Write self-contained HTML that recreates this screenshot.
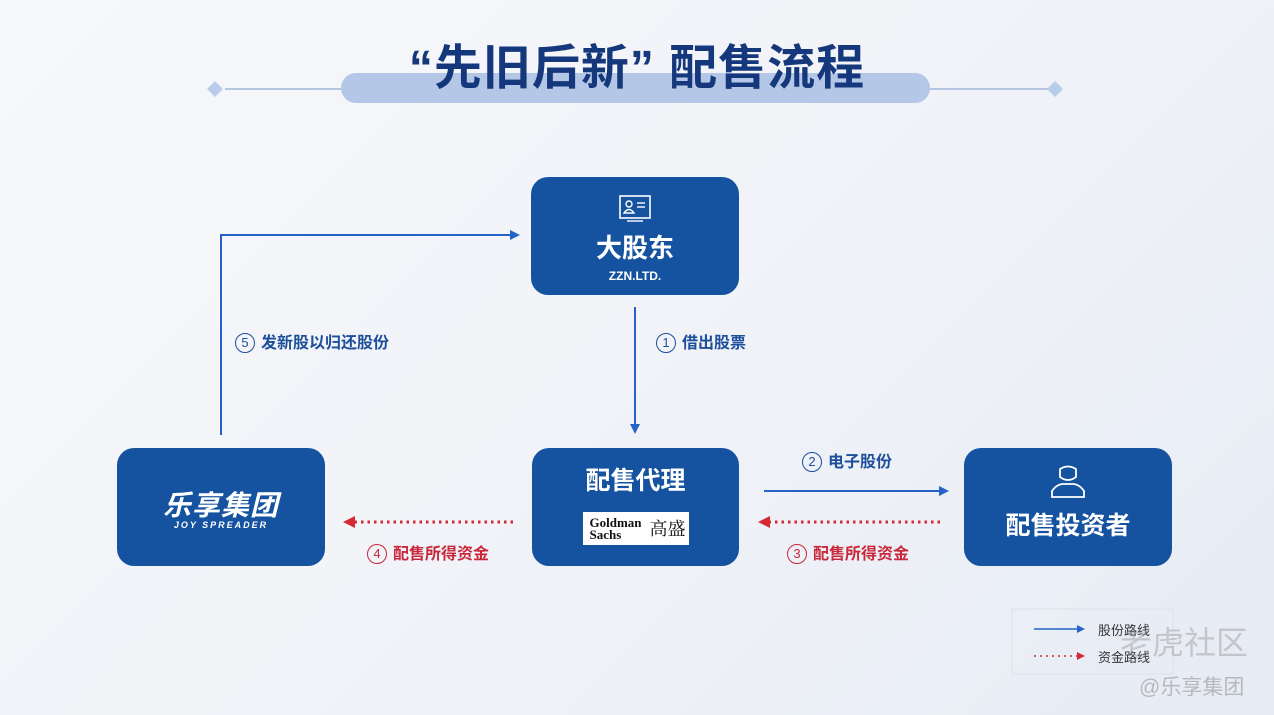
<!DOCTYPE html>
<html><head><meta charset="utf-8"><style>
body{margin:0;width:1274px;height:715px;overflow:hidden;background:linear-gradient(135deg,#f7f8fb 0%,#f1f3f8 50%,#e6ebf4 100%);font-family:"Liberation Sans","Noto Sans CJK SC",sans-serif;position:relative}
.box{position:absolute;background:#1553a0;border-radius:17px;color:#fff;text-align:center}
.lbl{position:absolute;font-size:16px;font-weight:bold;white-space:nowrap}
.c{display:inline-block;width:18px;height:18px;border:1.5px solid;border-radius:50%;font-size:13px;line-height:18px;text-align:center;margin-right:6px;font-weight:normal;vertical-align:1px}
</style></head><body>
<svg width="1274" height="715" style="position:absolute;left:0;top:0">
<defs>
<marker id="b" markerWidth="10" markerHeight="10" refX="8" refY="5" orient="auto" markerUnits="userSpaceOnUse"><path d="M0,0 L10,5 L0,10 Z" fill="#2563c9"/></marker>
<marker id="r" markerWidth="12" markerHeight="12" refX="10" refY="6" orient="auto" markerUnits="userSpaceOnUse"><path d="M0,0 L12,6 L0,12 Z" fill="#d42a35"/></marker>
<marker id="bs" markerWidth="8" markerHeight="8" refX="6" refY="4" orient="auto" markerUnits="userSpaceOnUse"><path d="M0,0 L8,4 L0,8 Z" fill="#2563c9"/></marker>
<marker id="rs" markerWidth="8" markerHeight="8" refX="6" refY="4" orient="auto" markerUnits="userSpaceOnUse"><path d="M0,0 L8,4 L0,8 Z" fill="#d42a35"/></marker>
</defs>
<line x1="225" y1="89" x2="341" y2="89" stroke="#9fb5da" stroke-width="1.5"/>
<line x1="930" y1="89" x2="1050" y2="89" stroke="#9fb5da" stroke-width="1.5"/>
<path d="M215,81 L223,89 L215,97 L207,89Z" fill="#b9cdea"/>
<path d="M1055,81 L1063,89 L1055,97 L1047,89Z" fill="#b9cdea"/>
<rect x="341" y="73" width="589" height="30" rx="15" fill="#b5c7e7"/>
<polyline points="221,435 221,235 518,235" fill="none" stroke="#2563c9" stroke-width="2" marker-end="url(#b)"/>
<line x1="635" y1="307" x2="635" y2="432" stroke="#2563c9" stroke-width="2" marker-end="url(#b)"/>
<line x1="764" y1="491" x2="947" y2="491" stroke="#2563c9" stroke-width="2" marker-end="url(#b)"/>
<line x1="513" y1="522" x2="345" y2="522" stroke="#d42a35" stroke-width="3" stroke-dasharray="2.5 4" marker-end="url(#r)"/>
<line x1="940" y1="522" x2="760" y2="522" stroke="#d42a35" stroke-width="3" stroke-dasharray="2.5 4" marker-end="url(#r)"/>
<rect x="1012" y="609" width="161" height="65" fill="none" stroke="#dde1e8"/>
<line x1="1034" y1="629" x2="1083" y2="629" stroke="#2563c9" stroke-width="1.5" marker-end="url(#bs)"/>
<line x1="1034" y1="656" x2="1083" y2="656" stroke="#d42a35" stroke-width="1.5" stroke-dasharray="2 4" marker-end="url(#rs)"/>
</svg>
<div style="position:absolute;left:0;width:1274px;top:28px;text-align:center;font-size:48px;font-weight:bold;color:#15387c;letter-spacing:1px">“先旧后新” 配售流程</div>
<div class="box" style="left:531px;top:177px;width:208px;height:118px">
<svg width="34" height="30" style="margin-top:17px" viewBox="0 0 34 30"><rect x="2" y="2" width="30" height="22" fill="none" stroke="#fff" stroke-width="1.6"/><circle cx="11" cy="10" r="3" fill="none" stroke="#fff" stroke-width="1.4"/><path d="M6,19 Q11,12 16,19Z" fill="none" stroke="#fff" stroke-width="1.4"/><line x1="19" y1="9" x2="27" y2="9" stroke="#fff" stroke-width="1.4"/><line x1="19" y1="13" x2="27" y2="13" stroke="#fff" stroke-width="1.4"/><line x1="9" y1="27" x2="25" y2="27" stroke="#fff" stroke-width="1.4"/></svg>
<div style="font-size:26px;font-weight:bold;line-height:30px;margin-top:4px">大股东</div>
<div style="font-size:12px;font-weight:bold;margin-top:6px">ZZN.LTD.</div></div>
<div class="box" style="left:532px;top:448px;width:207px;height:118px">
<div style="font-size:25px;font-weight:bold;margin-top:13px">配售代理</div>
<div style="margin:15px auto 0;width:106px;height:33px;background:#fff;color:#111;font-family:'Liberation Serif','Noto Serif CJK SC',serif;font-size:13px;line-height:12px;text-align:left;position:relative"><div style="position:absolute;left:7px;top:5px;font-weight:bold">Goldman<br>Sachs</div><div style="position:absolute;left:67px;top:7px;font-size:18px;line-height:20px">高盛</div></div></div>
<div class="box" style="left:117px;top:448px;width:208px;height:118px">
<div style="font-size:28px;font-weight:bold;font-style:italic;margin-top:36px;letter-spacing:1px">乐享集团</div>
<div style="font-size:9px;font-weight:bold;font-style:italic;letter-spacing:2px;margin-top:-4px">JOY SPREADER</div></div>
<div class="box" style="left:964px;top:448px;width:208px;height:118px">
<svg width="40" height="36" style="margin-top:15px" viewBox="0 0 40 36"><path d="M12,6 Q20,1 28,6 L28,14 Q20,20 12,14Z" fill="none" stroke="#fff" stroke-width="1.8"/><path d="M4,34 L4,28 Q8,22 14,21 L26,21 Q32,22 36,28 L36,34Z" fill="none" stroke="#fff" stroke-width="1.8"/></svg>
<div style="font-size:25px;font-weight:bold;margin-top:2px">配售投资者</div></div>
<div class="lbl" style="left:235px;top:329px;color:#1d4f9a"><span class="c">5</span>发新股以归还股份</div>
<div class="lbl" style="left:656px;top:329px;color:#1d4f9a"><span class="c">1</span>借出股票</div>
<div class="lbl" style="left:802px;top:448px;color:#1d4f9a"><span class="c">2</span>电子股份</div>
<div class="lbl" style="left:367px;top:540px;color:#c8283a"><span class="c">4</span>配售所得资金</div>
<div class="lbl" style="left:787px;top:540px;color:#c8283a"><span class="c">3</span>配售所得资金</div>
<div style="position:absolute;left:1098px;top:620px;font-size:13px;color:#333">股份路线</div>
<div style="position:absolute;left:1098px;top:647px;font-size:13px;color:#333">资金路线</div>
<div style="position:absolute;left:1120px;top:618px;font-size:32px;color:rgba(150,150,150,0.45)">老虎社区</div>
<div style="position:absolute;left:1139px;top:671px;font-size:21px;color:rgba(150,150,150,0.6)">@乐享集团</div>
</body></html>
